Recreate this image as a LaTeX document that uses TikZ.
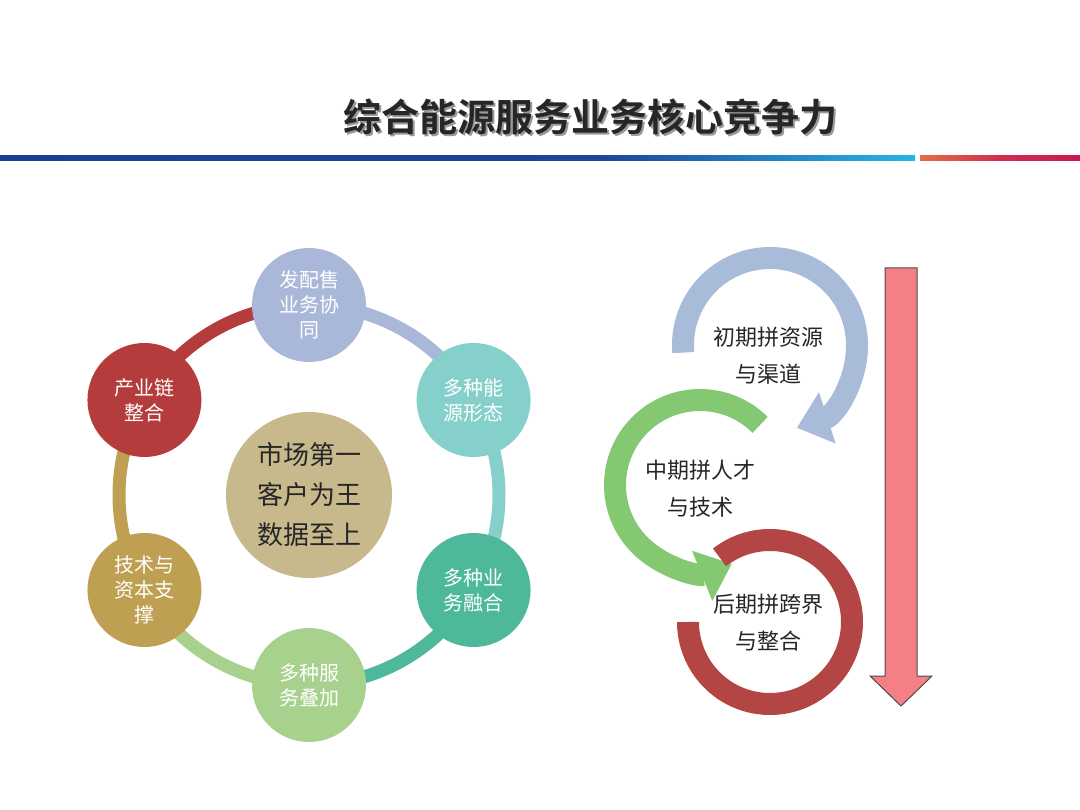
\documentclass[tikz,border=0pt]{standalone}
\usepackage{fontspec}
\setmainfont{Noto Sans CJK SC}
\newfontfamily\boldcjk{Noto Sans CJK SC Bold}
\usetikzlibrary{arrows.meta,calc}
\definecolor{cA}{HTML}{A9B8D8}
\definecolor{cB}{HTML}{86D0CB}
\definecolor{cC}{HTML}{4DB99A}
\definecolor{cD}{HTML}{A9D18E}
\definecolor{cE}{HTML}{BFA052}
\definecolor{cF}{HTML}{B43C3C}
\definecolor{cG}{HTML}{C8B98C}
\definecolor{rblue}{HTML}{A8BBD9}
\definecolor{rgreen}{HTML}{85C872}
\definecolor{rred}{HTML}{B34545}
\definecolor{pinkarr}{HTML}{F57F86}
\tikzset{
 sat/.style={circle,minimum size=114pt,inner sep=0pt,text=white,font=\fontsize{20pt}{25pt}\selectfont,align=center},
 ring/.style={line width=13pt},
 bigarc/.style={line width=22pt},
 lbl/.style={font=\fontsize{22pt}{37pt}\selectfont,align=center,text=black!85}
}
\begin{document}
\begin{tikzpicture}[x=1pt,y=1pt]
\useasboundingbox (0,0) rectangle (1080,-810);
% title
\node[font=\boldcjk\fontsize{38pt}{44pt}\selectfont,text=black!40] (tsh) at (592,-119) {综合能源服务业务核心竞争力};
\node[font=\boldcjk\fontsize{38pt}{44pt}\selectfont,text=black!85] (title) at (590,-117) {综合能源服务业务核心竞争力};
\shade[left color={rgb,255:red,25;green,65;blue,145},right color={rgb,255:red,30;green,70;blue,150}] (0,-155.5) rectangle (600,-161);
\shade[left color={rgb,255:red,30;green,70;blue,150},right color={rgb,255:red,40;green,180;blue,225}] (600,-155.5) rectangle (915,-161);
\shade[left color={rgb,255:red,225;green,110;blue,70},right color={rgb,255:red,200;green,25;blue,80},middle color={rgb,255:red,210;green,45;blue,80}] (920,-155.5) rectangle (1080,-161);
% left ring
\coordinate (cen) at (309,-495);
\draw[ring,cA] (cen) ++(90:190) arc (90:30:190);
\draw[ring,cB] (cen) ++(30:190) arc (30:-30:190);
\draw[ring,cC] (cen) ++(-30:190) arc (-30:-90:190);
\draw[ring,cD] (cen) ++(-90:190) arc (-90:-150:190);
\draw[ring,cE] (cen) ++(-150:190) arc (-150:-210:190);
\draw[ring,cF] (cen) ++(150:190) arc (150:90:190);
\node[sat,fill=cA] (n1) at ($(cen)+(90:190)$) {发配售\\业务协\\同};
\node[sat,fill=cB] (n2) at ($(cen)+(30:190)$) {多种能\\源形态};
\node[sat,fill=cC] (n3) at ($(cen)+(-30:190)$) {多种业\\务融合};
\node[sat,fill=cD] (n4) at ($(cen)+(-90:190)$) {多种服\\务叠加};
\node[sat,fill=cE] (n5) at ($(cen)+(-150:190)$) {技术与\\资本支\\撑};
\node[sat,fill=cF] (n6) at ($(cen)+(150:190)$) {产业链\\整合};
\node[circle,fill=cG,minimum size=166pt,inner sep=0pt,align=center,text=black!85,font=\fontsize{26pt}{40pt}\selectfont] (core) at (cen) {市场第一\\客户为王\\数据至上};
% right arcs
\draw[bigarc,rblue,-{Triangle[length=32pt,width=52pt]}] (770,-345) ++(185:87) arc (185:-72:87);
\draw[bigarc,rgreen,-{Triangle[length=32pt,width=52pt]}] (700,-485) ++(45:85) arc (45:292:85);
\draw[bigarc,rred] (770,-622) ++(128:82) arc (128:-180:82);
\node[lbl] (t1) at (768,-356) {初期拼资源\\与渠道};
\node[lbl] (t2) at (700,-489) {中期拼人才\\与技术};
\node[lbl] (t3) at (768,-623) {后期拼跨界\\与整合};
% down arrow
\draw[fill=pinkarr,draw=black!70,line width=1pt] (885,-268) -- (917,-268) -- (917,-676) -- (932,-676) -- (901,-706) -- (870,-676) -- (885,-676) -- cycle;
\end{tikzpicture}
\end{document}
